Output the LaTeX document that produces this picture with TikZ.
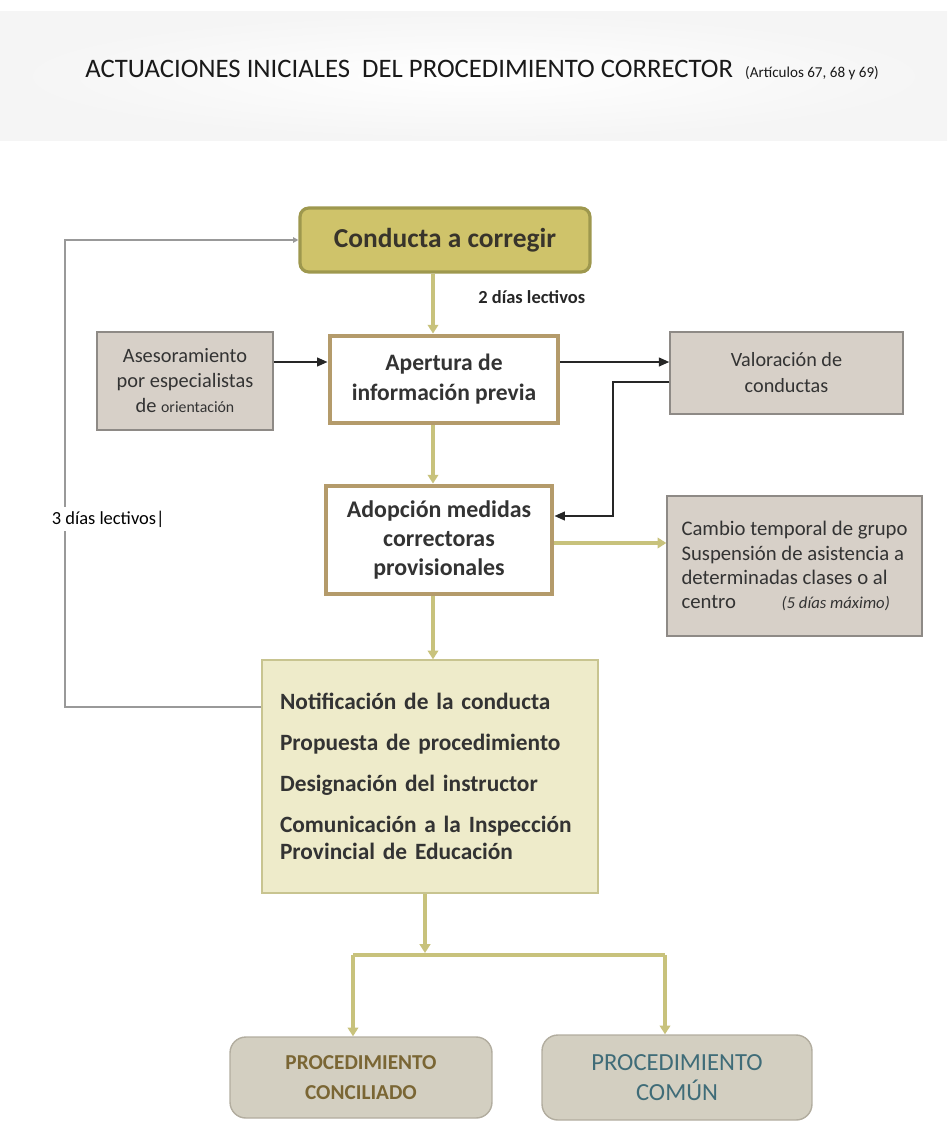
\documentclass[tikz,border=0pt]{standalone}
\usepackage{fontspec}
\setmainfont{Carlito}
\usetikzlibrary{arrows.meta}
\definecolor{olivec}{HTML}{C8C27C}
\definecolor{tanb}{HTML}{B49B6B}
\definecolor{condfill}{HTML}{CFC36A}
\definecolor{condbord}{HTML}{9E984E}
\definecolor{grayfill}{HTML}{D7D0C8}
\definecolor{graybord}{HTML}{8E8A86}
\definecolor{notiffill}{HTML}{EEEBCA}
\definecolor{notifbord}{HTML}{C8C490}
\definecolor{procfill}{HTML}{D3CFC1}
\definecolor{procbord}{HTML}{B2AD9F}
\definecolor{txt}{HTML}{333333}
\definecolor{concil}{HTML}{7A6634}
\definecolor{comunc}{HTML}{3F6C78}
\tikzset{
  x=0.02cm, y=-0.02cm,
  every node/.style={text=txt, inner sep=0pt},
  condbox/.style={draw=condbord, line width=1.8pt, fill=condfill, rounded corners=5pt},
  mainbox/.style={draw=tanb, line width=2.8pt, fill=white, align=center, font=\bfseries},
  greybox/.style={draw=graybord, line width=0.8pt, fill=grayfill, align=center},
  notifbox/.style={draw=notifbord, line width=0.8pt, fill=notiffill},
  procbox/.style={draw=procbord, line width=0.8pt, fill=procfill, rounded corners=9pt, align=center, font=\bfseries},
  olivearrow/.style={draw=olivec, line width=2.2pt, -{Triangle[length=5pt,width=6pt]}},
  oliveline/.style={draw=olivec, line width=2.8pt},
  blackarrow/.style={draw=black!85, line width=1.1pt, -{Triangle[length=6pt,width=5pt]}},
  loopline/.style={draw=gray!80, line width=0.8pt},
}
\begin{document}
\begin{tikzpicture}
\useasboundingbox (0,0) rectangle (947,1122);
% faint top band
\shade[inner color=white, outer color=black!4] (0,12) rectangle (947,140);
% title
\node[anchor=base west, font=\fontsize{15.2}{17}\selectfont, text=black!90] (title) at (85,78)
  {ACTUACIONES INICIALES\ \ DEL PROCEDIMIENTO CORRECTOR\ \ {\fontsize{8.6}{10}\selectfont (Artículos 67, 68 y 69)}};
% nodes
\node[condbox, minimum width=5.8cm, minimum height=1.28cm, font=\bfseries\fontsize{15.6}{18}\selectfont, text=black!80!olive] (cond) at (445,240) {Conducta a corregir};
\node[greybox, minimum width=3.52cm, minimum height=1.96cm, font=\fontsize{11.6}{14.2}\selectfont] (ases) at (185,381)
  {Asesoramiento\\por especialistas\\de {\fontsize{9}{10}\selectfont orientación}};
\node[mainbox, minimum width=4.56cm, minimum height=1.74cm, font=\bfseries\fontsize{13.4}{17}\selectfont] (apert) at (444,379.5)
  {Apertura de\\información previa};
\node[greybox, minimum width=4.66cm, minimum height=1.64cm, font=\fontsize{11.5}{14.8}\selectfont] (valor) at (786.5,373)
  {Valoración de\\conductas};
\node[mainbox, minimum width=4.52cm, minimum height=2.16cm, font=\bfseries\fontsize{13.6}{16.5}\selectfont] (adop) at (439,540)
  {Adopción medidas\\correctoras\\provisionales};
\node[greybox, minimum width=5.1cm, minimum height=2.8cm, align=left, font=\fontsize{11.8}{13.7}\selectfont] (cambio) at (794.5,566)
  {Cambio temporal de grupo\\Suspensión de asistencia a\\determinadas clases o al\\centro\hspace{2.2em}{\itshape\fontsize{9.5}{11}\selectfont (5 días máximo)}};
\node[notifbox, minimum width=6.72cm, minimum height=4.66cm, align=left, text width=6.0cm, font=\bfseries\fontsize{13.3}{15.4}\selectfont] (notif) at (430,776.5)
  {Notificación de la conducta\\[8pt]Propuesta de procedimiento\\[8pt]Designación del instructor\\[8pt]Comunicación a la Inspección\\Provincial de Educación};
\node[procbox, minimum width=5.24cm, minimum height=1.62cm, text=concil, font=\bfseries\fontsize{12.1}{17.5}\selectfont] (conc) at (361,1077.5)
  {PROCEDIMIENTO\\CONCILIADO};
\node[procbox, minimum width=5.4cm, minimum height=1.7cm, text=comunc, font=\fontsize{14}{17.5}\selectfont] (comun) at (677,1077.5)
  {PROCEDIMIENTO\\COMÚN};
% coordinates
\coordinate (cx) at (433,0);
\coordinate (split) at (425,953);
\coordinate (sl) at (353,955);
\coordinate (sr) at (665,955);
\coordinate (lt) at (65,240);
\coordinate (lb) at (65,707);
\coordinate (vr) at (613,382);
\coordinate (vb) at (613,516);
% connectors
\draw[loopline, -{Triangle[length=3pt,width=3pt]}] (notif.west |- lb) -- (lb) -- (lt) -- (cond.west);
\node[anchor=west, fill=white, inner sep=2pt, font=\fontsize{10.5}{12}\selectfont, text=black] (lab3) at (48,519) {3 días lectivos|};
\draw[olivearrow] (cond.south -| cx) -- (apert.north -| cx);
\node[anchor=west, font=\bfseries\fontsize{10.5}{12}\selectfont, text=black!85] (lab2) at (478,297) {2 días lectivos};
\draw[blackarrow] (ases.east |- 0,362) -- (apert.west |- 0,362);
\draw[blackarrow] (apert.east |- 0,362) -- (valor.west |- 0,362);
\draw[blackarrow] (valor.west |- vr) -- (vr) -- (vb) -- (adop.east |- vb);
\draw[olivearrow] (apert.south -| cx) -- (adop.north -| cx);
\draw[olivearrow] (adop.east |- 0,543) -- (cambio.west |- 0,543);
\draw[olivearrow] (adop.south -| cx) -- (notif.north -| cx);
\draw[olivearrow, line width=2.8pt] (notif.south -| split) -- (split);
\draw[oliveline] (sl) -- (sr);
\draw[olivearrow, line width=2.8pt] (sl) -- (conc.north -| sl);
\draw[olivearrow, line width=2.8pt] (sr) -- (comun.north -| sr);
\end{tikzpicture}
\end{document}
